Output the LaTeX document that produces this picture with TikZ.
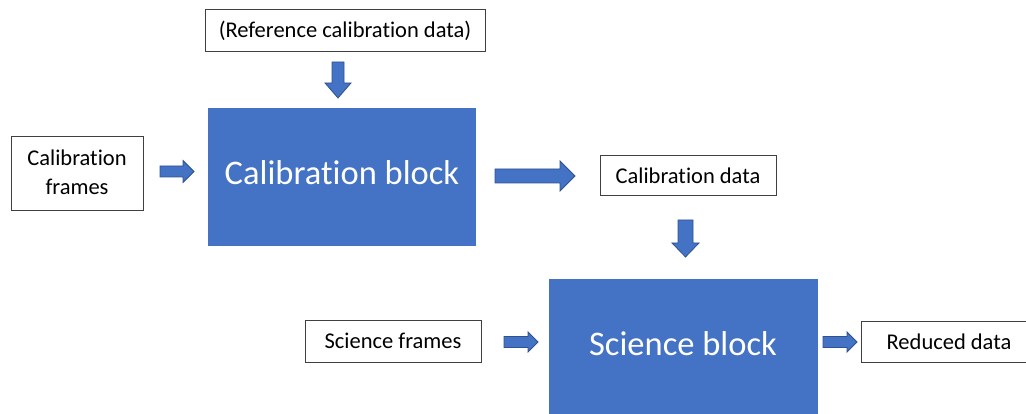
\documentclass[tikz,border=0pt]{standalone}
\usepackage{fontspec}
\setmainfont{Carlito}[Ligatures=NoCommon]
\definecolor{blockfill}{HTML}{4472C4}
\definecolor{blockedge}{HTML}{2F528F}
\definecolor{boxedge}{HTML}{404040}
\tikzset{
  databox/.style={draw=boxedge, line width=1pt, fill=white, inner sep=0pt,
    font=\fontsize{22.5}{28}\selectfont, align=center},
  procblock/.style={fill=blockfill, draw=blockfill, line width=0.6pt, inner sep=0pt,
    text=white, font=\fontsize{34.5}{40}\selectfont},
  blockarrow/.style={fill=blockfill, draw=blockedge, line width=0.8pt, line join=miter},
}
% right-pointing block arrow: x start, tip x, centre y, shaft half width, head half width, head length
\newcommand\rightblk[6]{%
  \filldraw[blockarrow] ({#1},{#3-#4}) -- ({#2-#6},{#3-#4}) -- ({#2-#6},{#3-#5}) -- ({#2},{#3})
    -- ({#2-#6},{#3+#5}) -- ({#2-#6},{#3+#4}) -- ({#1},{#3+#4}) -- cycle;}
% downward block arrow: y start, tip y, centre x, shaft half width, head half width, head length
\newcommand\downblk[6]{%
  \filldraw[blockarrow] ({#3-#4},{#1}) -- ({#3-#4},{#2-#6}) -- ({#3-#5},{#2-#6}) -- ({#3},{#2})
    -- ({#3+#5},{#2-#6}) -- ({#3+#4},{#2-#6}) -- ({#3+#4},{#1}) -- cycle;}
\begin{document}
\begin{tikzpicture}[x=1pt,y=-1pt]
  \useasboundingbox (0,0) rectangle (1026,414);
  \clip (0,0) rectangle (1026,414);

  % input and output data
  \node[databox, minimum width=280pt, minimum height=42pt] (ref) at (345,30.5) {(Reference calibration data)};
  \node[databox, minimum width=132pt, minimum height=74pt] (calframes) at (77,174) {\raisebox{2.5pt}{\begin{tabular}{@{}c@{}}Calibration\\[1pt]frames\end{tabular}}};
  \node[databox, minimum width=176pt, minimum height=40pt] (caldata) at (688,176) {Calibration data};
  \node[databox, minimum width=176pt, minimum height=42pt] (sciframes) at (393,341) {Science frames};
  \node[databox, minimum width=176pt, minimum height=41pt] (reduced) at (949,341.5) {Reduced data};

  % processing blocks
  \node[procblock, minimum width=267pt, minimum height=137pt] (calblock) at (342,176.5) {\raisebox{7pt}{Calibration block}};
  \node[procblock, minimum width=268pt, minimum height=137pt] (sciblock) at (683,347.5) {\raisebox{7pt}{Science block}};

  % flow arrows
  \downblk{62}{98}{338}{6}{13}{15}
  \rightblk{160}{194}{171.5}{5.5}{11}{11}
  \rightblk{495}{575}{176}{7}{15}{15}
  \downblk{220}{257}{685.5}{7.5}{13.5}{14}
  \rightblk{504}{538}{342}{5.5}{10}{10}
  \rightblk{823}{857}{342}{5.5}{10}{10}
\end{tikzpicture}
\end{document}
